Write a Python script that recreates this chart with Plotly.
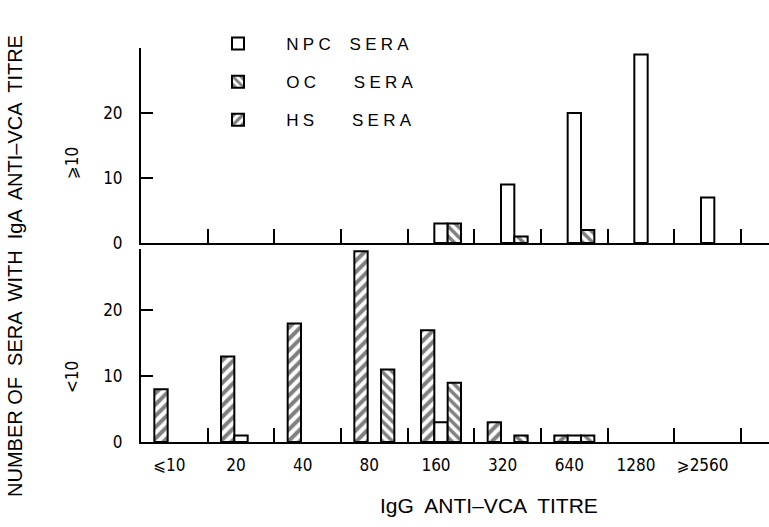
import plotly.graph_objects as go
from plotly.subplots import make_subplots

categories = ["⩽10", "20", "40", "80", "160", "320", "640", "1280", "⩾2560"]

# IgA anti-VCA titre >= 10 (top panel)
npc_high = [0, 0, 0, 0, 3, 9, 20, 29, 7]
oc_high = [0, 0, 0, 0, 3, 1, 2, 0, 0]
hs_high = [0, 0, 0, 0, 0, 0, 0, 0, 0]

# IgA anti-VCA titre < 10 (bottom panel)
npc_low = [0, 1, 0, 0, 3, 0, 1, 0, 0]
oc_low = [0, 0, 0, 11, 9, 1, 1, 0, 0]
hs_low = [8, 13, 18, 29, 17, 3, 1, 0, 0]

NB = "\u00a0"
SP = "\u2005"  # four-per-em letter spacing
series_names = [
    SP.join("NPC") + NB * 4 + SP.join("SERA"),
    SP.join("OC") + NB * 8 + SP.join("SERA"),
    SP.join("HS") + NB * 8 + SP.join("SERA"),
]

NARROW = "Liberation Sans Narrow, DejaVu Sans Condensed, Liberation Sans, Arial, sans-serif"
WIDE = "Liberation Sans, Arial, sans-serif"
PAD = NB * 6


def hide_zero(vals):
    return [v if v != 0 else None for v in vals]


fig = make_subplots(rows=2, cols=1, shared_xaxes=False, vertical_spacing=0.0)

styles = {
    "HS": dict(color="white", line=dict(color="black", width=2),
               pattern=dict(shape="/", fgcolor="black", bgcolor="white", size=8, solidity=0.5)),
    "NPC": dict(color="white", line=dict(color="black", width=2)),
    "OC": dict(color="white", line=dict(color="black", width=2),
               pattern=dict(shape="\\", fgcolor="black", bgcolor="white", size=7, solidity=0.5)),
}

# order inside each group: HS, NPC, OC ; legend order NPC, OC, HS
panels = [(1, hs_high, npc_high, oc_high, True), (2, hs_low, npc_low, oc_low, False)]
for row, hs, npc, oc, show in panels:
    for key, vals, name, rank in [("HS", hs, series_names[2], 3),
                                   ("NPC", npc, series_names[0], 1),
                                   ("OC", oc, series_names[1], 2)]:
        fig.add_trace(go.Bar(x=categories, y=hide_zero(vals), name=PAD + name, marker=styles[key],
                             legendgroup=key, legendrank=rank, showlegend=show),
                      row=row, col=1)

plot_top, plot_bottom = 48, 85
H = 527
L = 141
PW = 769 - L
ph = H - plot_top - plot_bottom
zero_top_px = 243
zero_bot_px = H - plot_bottom
top_dom0 = (zero_bot_px - zero_top_px) / ph
bot_range_max = 29.3
bot_dom1 = bot_range_max * 6.58 / ph

axis_common = dict(type="category", range=[-0.5, 8.92], tickson="boundaries",
                   ticks="inside", ticklen=14, tickwidth=2, tickcolor="black",
                   showline=True, linewidth=2, linecolor="black", showgrid=False,
                   zeroline=False, fixedrange=True, automargin=False)
yaxis_common = dict(tickvals=[0, 10, 20], ticks="inside", ticklen=12, tickwidth=2,
                    tickcolor="black", showline=True, linewidth=2, linecolor="black",
                    showgrid=False, zeroline=False, automargin=False, ticklabelstandoff=13,
                    tickfont=dict(family=NARROW, size=17, color="black"), fixedrange=True)
fig.update_layout(
    xaxis=dict(**axis_common, domain=[0, 1], showticklabels=False, anchor="y"),
    xaxis2=dict(**axis_common, domain=[0, 1], anchor="y2", ticklabelstandoff=7,
                tickfont=dict(family=NARROW, size=17, color="black"), ticklabelshift=-5),
    yaxis=dict(**yaxis_common, domain=[top_dom0, 1], range=[0, 30], anchor="x"),
    yaxis2=dict(**yaxis_common, domain=[0, bot_dom1], range=[0, bot_range_max], anchor="x2"),
    barmode="group", bargap=0.4, bargroupgap=0.0,
    width=769, height=527,
    margin=dict(l=L, r=0, t=plot_top, b=plot_bottom),
    paper_bgcolor="white", plot_bgcolor="white",
    font=dict(family=WIDE, color="black"),
    legend=dict(x=(218 - L) / PW, xanchor="left", y=1 + (48 - 26) / ph, yanchor="top",
                font=dict(family=WIDE, size=17, color="black"), tracegroupgap=13,
                bgcolor="rgba(0,0,0,0)"),
    showlegend=True,
)

fig.add_annotation(text="IgG  ANTI–VCA  TITRE", xref="paper", yref="paper",
                   x=(489 - L) / PW, y=-(505 - zero_bot_px) / ph, xanchor="center", yanchor="middle",
                   showarrow=False, font=dict(family=WIDE, size=21, color="black"))
fig.add_annotation(text="NUMBER OF  SERA  WITH  IgA  ANTI–VCA  TITRE", textangle=-90,
                   xref="paper", yref="paper", x=(15 - L) / PW, y=(zero_bot_px - 266) / ph,
                   xanchor="center", yanchor="middle", showarrow=False,
                   font=dict(family=WIDE, size=20, color="black"))
fig.add_annotation(text="⩾10", textangle=-90, xref="paper", yref="paper",
                   x=(72 - L) / PW, y=(zero_bot_px - 163) / ph,
                   xanchor="center", yanchor="middle", showarrow=False,
                   font=dict(family=NARROW, size=17, color="black"))
fig.add_annotation(text="<10", textangle=-90, xref="paper", yref="paper",
                   x=(72 - L) / PW, y=(zero_bot_px - 377) / ph,
                   xanchor="center", yanchor="middle", showarrow=False,
                   font=dict(family=NARROW, size=17, color="black"))

fig.write_html("out.html", config={"displayModeBar": False},
               post_script="document.body.style.margin='0';document.body.style.padding='0';")
